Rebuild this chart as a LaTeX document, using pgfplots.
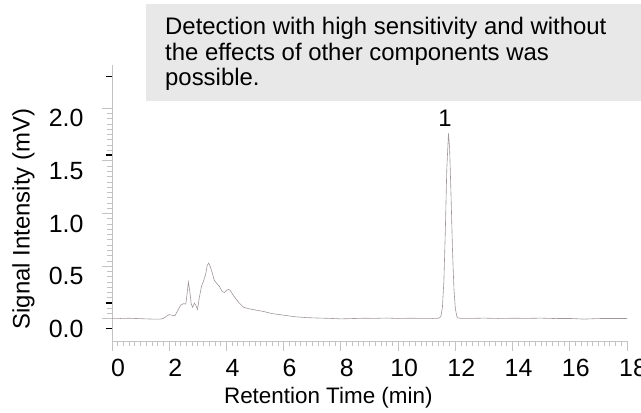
\documentclass[border=0pt]{standalone}
\usepackage{fontspec}
\setmainfont{Liberation Sans}
\usepackage{pgfplots}
\pgfplotsset{compat=1.18}
\definecolor{axgray}{RGB}{195,195,195}
\definecolor{linegray}{RGB}{160,150,155}
\definecolor{boxgray}{RGB}{232,232,232}
\begin{document}
\begin{tikzpicture}
\useasboundingbox (0bp,0bp) rectangle (641bp,413bp);
\fill[boxgray] (146bp,312bp) rectangle (641bp,409bp);
\node[anchor=base west, inner sep=0pt, font=\fontsize{24}{26}\selectfont] at (165bp,378bp) {Detection with high sensitivity and without};
\node[anchor=base west, inner sep=0pt, font=\fontsize{24}{26}\selectfont] at (165bp,352.5bp) {the effects of other components was};
\node[anchor=base west, inner sep=0pt, font=\fontsize{24}{26}\selectfont] at (165bp,327bp) {possible.};
\begin{axis}[
  at={(112bp,72bp)}, anchor=south west,
  scale only axis, width=515bp, height=276bp,
  xmin=0, xmax=18, ymin=-0.21, ymax=2.41,
  axis x line*=bottom, axis y line*=left,
  axis line style={axgray, line width=0.8bp},
  xtick={0,2,...,18}, ytick={0,0.5,1,1.5,2},
  minor x tick num=9, minor y tick num=9,
  tick align=outside,
  major tick length=10bp, minor tick length=5bp,
  every tick/.style={axgray, line width=0.8bp},
  /pgf/number format/assume math mode=true,
  tick label style={font=\fontsize{25}{29}\selectfont},
  xticklabel style={xshift=6bp, yshift=-5bp},
  yticklabel style={xshift=-15bp, yshift=-10bp, /pgf/number format/fixed, /pgf/number format/fixed zerofill, /pgf/number format/precision=1},
  extra y ticks={-0.095,0.15,1.555,2.30},
  extra y tick labels={},
  extra y tick style={major tick length=6bp, every tick/.style={black, line width=1.2bp}},
  xlabel={Retention Time (min)}, ylabel={Signal Intensity (mV)},
  xlabel style={font=\fontsize{22.5}{26}\selectfont, at={(axis description cs:0.42,-0.205)}, anchor=center},
  ylabel style={font=\fontsize{24}{28}\selectfont, at={(axis description cs:-0.172,0.442)}, anchor=center, rotate=0},
]
\addplot[linegray, line width=0.6bp] coordinates {
(0.0,0.005) (0.3,0.004) (0.6,0.006) (0.9,0.003) (1.2,0.000) (1.5,-0.003) (1.7,-0.002)
(1.8,0.005) (1.9,0.025) (2.0,0.04) (2.1,0.035) (2.2,0.03) (2.3,0.08) (2.4,0.13)
(2.5,0.145) (2.58,0.14) (2.63,0.25) (2.67,0.35) (2.72,0.26) (2.77,0.14) (2.82,0.11)
(2.88,0.15) (2.93,0.13) (2.99,0.09) (3.05,0.2) (3.13,0.31) (3.2,0.36) (3.27,0.42)
(3.33,0.51) (3.38,0.53) (3.43,0.50) (3.5,0.44) (3.57,0.37) (3.65,0.34) (3.75,0.31)
(3.85,0.26) (3.93,0.25) (4.0,0.27) (4.07,0.28) (4.13,0.27) (4.2,0.24) (4.3,0.2)
(4.45,0.15) (4.6,0.11) (4.8,0.095) (5.0,0.085) (5.3,0.07) (5.6,0.05) (6.0,0.035)
(6.4,0.02) (6.8,0.012) (7.2,0.008) (7.6,0.005) (8.0,0.0) (8.4,0.003) (8.8,0.006)
(9.2,0.005) (9.6,0.008) (10.0,0.004) (10.4,0.006) (10.8,0.005) (11.2,0.004)
(11.4,0.006) (11.45,0.01) (11.5,0.027) (11.55,0.116) (11.6,0.36) (11.65,0.83)
(11.7,1.41) (11.76,1.76) (11.8,1.62) (11.85,1.17) (11.9,0.66) (11.95,0.29)
(12.0,0.10) (12.05,0.026) (12.1,0.008) (12.2,0.005) (12.6,0.005) (13.0,0.007)
(13.5,0.004) (14.0,0.006) (14.5,0.005) (15.0,0.007) (15.5,0.003) (16.0,0.004)
(16.5,-0.002) (17.0,0.003) (17.5,0.004) (18.0,0.004)
};
\node[font=\fontsize{24}{28}\selectfont] at (axis cs:11.64,1.90) {1};
\end{axis}
\end{tikzpicture}
\end{document}
